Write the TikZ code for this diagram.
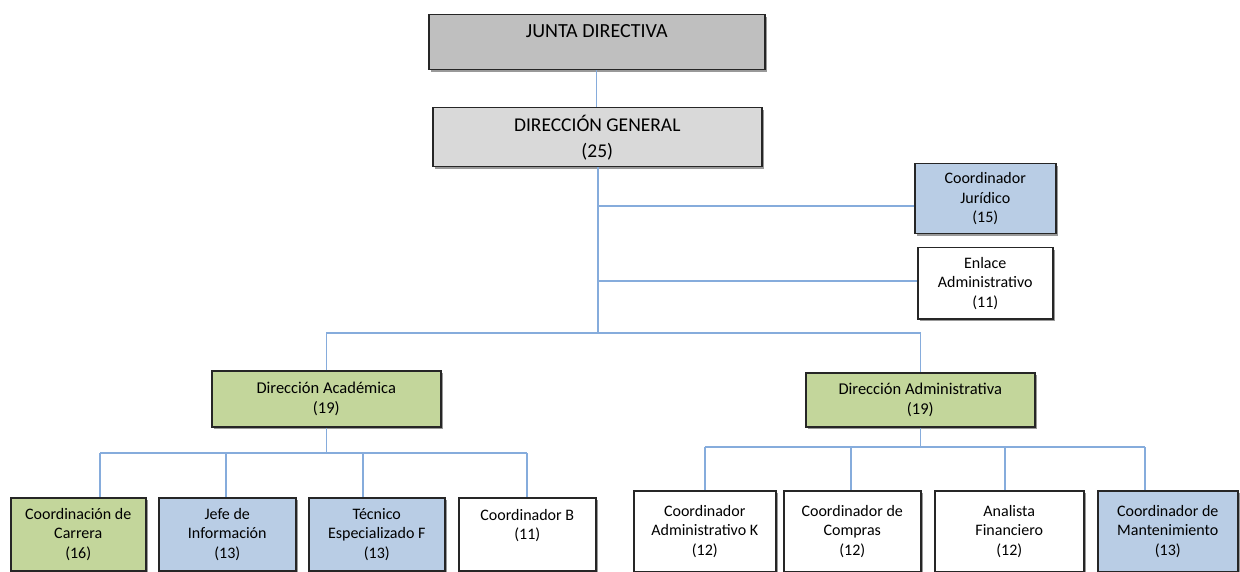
\documentclass[tikz,border=0pt]{standalone}
\usepackage{fontspec}
\setmainfont{Carlito}
\usetikzlibrary{shadows}
\definecolor{jdgray}{HTML}{BFBFBF}
\definecolor{dggray}{HTML}{D9D9D9}
\definecolor{boxblue}{HTML}{B9CDE5}
\definecolor{boxgreen}{HTML}{C3D69B}
\definecolor{linkblue}{HTML}{86ACDC}
\begin{document}
\begin{tikzpicture}[x=1pt,y=-1pt,
  box/.style={draw=black!85, line width=1.5pt, align=center, inner sep=0pt,
    anchor=north west, fill=white, text=black,
    font=\fontsize{16}{19.5}\selectfont,
    drop shadow={shadow xshift=2pt, shadow yshift=-2pt, fill=black, opacity=0.4}},
  conn/.style={draw=linkblue, line width=1.4pt}]
\useasboundingbox (0,0) rectangle (1240,572);

% top level
\node[box, fill=jdgray, minimum width=336pt, minimum height=55pt,
  font=\fontsize{20}{22}\selectfont] (jd) at (428,14) {JUNTA DIRECTIVA\\\mbox{}};
\node[box, fill=dggray, minimum width=329pt, minimum height=59pt,
  font=\fontsize{19.5}{26}\selectfont] (dg) at (432,107) {DIRECCIÓN GENERAL\\(25)};

% staff
\node[box, fill=boxblue, minimum width=141pt, minimum height=70pt] (cj) at (914,163) {Coordinador\\Jurídico\\(15)};
\node[box, minimum width=135pt, minimum height=71pt] (ea) at (917,247) {Enlace\\Administrativo\\(11)};

% directions
\node[box, fill=boxgreen, minimum width=229pt, minimum height=56pt, font=\fontsize{16.5}{20}\selectfont] (dac) at (211,370) {Dirección Académica\\(19)};
\node[box, fill=boxgreen, minimum width=229pt, minimum height=54pt, font=\fontsize{16.5}{20}\selectfont] (dad) at (805,372) {Dirección Administrativa\\(19)};

% academic children
\node[box, fill=boxgreen, minimum width=135pt, minimum height=73pt] (c1) at (10,497) {Coordinación de\\Carrera\\(16)};
\node[box, fill=boxblue, minimum width=137pt, minimum height=73pt] (c2) at (158,497) {Jefe de\\Información\\(13)};
\node[box, fill=boxblue, minimum width=136pt, minimum height=73pt] (c3) at (308,497) {Técnico\\Especializado F\\(13)};
\node[box, minimum width=137pt, minimum height=73pt] (c4) at (458,497) {Coordinador B\\(11)\\\mbox{}};

% administrative children
\node[box, minimum width=142pt, minimum height=81pt] (r1) at (633,490) {Coordinador\\Administrativo K\\(12)};
\node[box, minimum width=137pt, minimum height=81pt] (r2) at (783,490) {Coordinador de\\Compras\\(12)};
\node[box, minimum width=149pt, minimum height=81pt] (r3) at (934,490) {Analista\\Financiero\\(12)};
\node[box, fill=boxblue, minimum width=140pt, minimum height=81pt] (r4) at (1097,490) {Coordinador de\\Mantenimiento\\(13)};

% bus coordinates
\coordinate (spine) at (598,333);
\coordinate (cjL) at (598,206);
\coordinate (eaL) at (598,281);
\coordinate (l1) at (100,453);
\coordinate (l2) at (226,453);
\coordinate (l3) at (363,453);
\coordinate (l4) at (527,453);
\coordinate (q1) at (705,447);
\coordinate (q2) at (851,447);
\coordinate (q3) at (1005,447);
\coordinate (q4) at (1145,447);

% connectors
\draw[conn] (jd.south) -- (jd.south |- dg.north);
\draw[conn] (dg.south -| spine) -- (spine);
\draw[conn] (cjL) -- (cjL -| cj.west);
\draw[conn] (eaL) -- (eaL -| ea.west);
\draw[conn] (dac.north) -- (dac.north |- spine) -- (dad.north |- spine) -- (dad.north);

\draw[conn] (dac.south) -- (dac.south |- l1);
\draw[conn] (l1) -- (l4);
\draw[conn] (l1) -- (l1 |- c1.north);
\draw[conn] (l2) -- (l2 |- c2.north);
\draw[conn] (l3) -- (l3 |- c3.north);
\draw[conn] (l4) -- (l4 |- c4.north);

\draw[conn] (dad.south) -- (dad.south |- q1);
\draw[conn] (q1) -- (q4);
\draw[conn] (q1) -- (q1 |- r1.north);
\draw[conn] (q2) -- (q2 |- r2.north);
\draw[conn] (q3) -- (q3 |- r3.north);
\draw[conn] (q4) -- (q4 |- r4.north);
\end{tikzpicture}
\end{document}
